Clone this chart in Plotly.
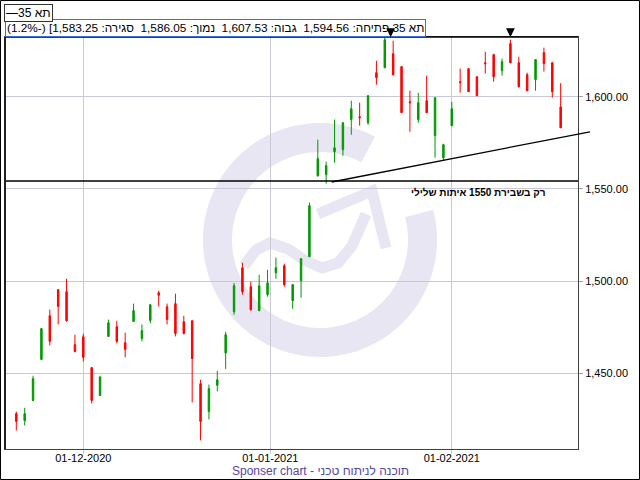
import numpy as np
import pandas as pd
import plotly.graph_objects as go

# TASE trading days (Sunday - Thursday)
dates = pd.bdate_range('2020-11-19', '2021-02-18', freq='C', weekmask='Sun Mon Tue Wed Thu')

opens = [1427.9, 1424.1, 1435.1, 1457.4, 1481.1, 1495.3, 1494.2, 1465.4, 1469.7, 1452.9,
         1437.8, 1469.9, 1475.2, 1466.5, 1478.0, 1468.8, 1478.6, 1493.6, 1486.0, 1487.7,
         1477.9, 1478.4, 1444.2, 1429.1, 1443.3, 1460.9, 1483.3, 1507.2, 1496.9, 1483.9,
         1492.6, 1504.5, 1508.3, 1489.3, 1500.2, 1513.2, 1557.2, 1557.8, 1570.3, 1571.4,
         1587.7, 1589.3, 1586.0, 1613.2, 1615.9, 1623.5, 1616.5, 1597.4, 1587.7, 1598.0,
         1579.0, 1567.0, 1584.4, 1608.3, 1615.4, 1611.0, 1618.6, 1623.0, 1614.3, 1629.0,
         1618.6, 1612.1, 1609.4, 1624.1, 1618.6, 1594.56]
highs = [1429.0, 1431.1, 1448.5, 1474.5, 1484.4, 1495.6, 1501.2, 1470.8, 1471.3, 1453.2,
         1448.5, 1479.0, 1478.4, 1471.9, 1487.7, 1476.4, 1487.4, 1494.7, 1487.7, 1493.1,
         1481.1, 1478.6, 1446.3, 1443.7, 1451.2, 1472.4, 1498.9, 1509.9, 1499.6, 1503.4,
         1506.1, 1512.7, 1509.4, 1498.2, 1512.3, 1542.6, 1576.8, 1564.8, 1587.7, 1586.2,
         1598.0, 1596.9, 1600.9, 1619.7, 1632.2, 1630.6, 1616.7, 1603.4, 1602.3, 1611.6,
         1599.8, 1574.6, 1597.4, 1615.4, 1615.6, 1611.2, 1624.6, 1623.5, 1620.8, 1631.1,
         1621.9, 1613.2, 1620.5, 1626.8, 1618.8, 1607.53]
lows = [1418.8, 1421.5, 1434.6, 1457.0, 1465.0, 1476.4, 1477.9, 1461.2, 1456.3, 1433.5,
        1437.5, 1469.8, 1466.1, 1458.5, 1477.8, 1467.2, 1477.0, 1486.2, 1476.4, 1469.9,
        1471.0, 1434.0, 1413.4, 1424.8, 1440.0, 1452.2, 1481.7, 1492.6, 1483.9, 1483.6,
        1491.5, 1501.2, 1496.9, 1484.9, 1490.9, 1513.0, 1556.7, 1552.9, 1564.3, 1568.1,
        1579.5, 1584.4, 1584.9, 1606.7, 1615.7, 1611.6, 1591.3, 1581.1, 1586.0, 1591.3,
        1567.0, 1565.4, 1584.2, 1602.3, 1602.7, 1600.5, 1612.7, 1608.3, 1611.6, 1618.4,
        1605.1, 1603.2, 1603.4, 1613.8, 1599.6, 1583.25]
closes = [1423.7, 1427.9, 1446.9, 1474.1, 1467.2, 1486.2, 1478.4, 1461.7, 1458.5, 1435.1,
          1447.8, 1477.3, 1467.2, 1462.8, 1483.9, 1473.0, 1487.1, 1492.2, 1479.1, 1471.5,
          1471.5, 1457.9, 1423.7, 1441.5, 1446.3, 1470.8, 1497.4, 1494.2, 1484.4, 1497.4,
          1499.0, 1507.2, 1498.0, 1498.0, 1512.1, 1540.9, 1566.5, 1562.7, 1572.4, 1586.0,
          1593.6, 1588.7, 1600.7, 1610.5, 1631.1, 1612.1, 1591.5, 1596.9, 1596.9, 1591.5,
          1599.6, 1574.1, 1593.6, 1607.8, 1602.9, 1600.7, 1618.1, 1611.0, 1619.2, 1618.6,
          1605.6, 1603.4, 1620.3, 1618.1, 1602.9, 1583.25]

month_ticks = [8, 30.33, 52]
month_labels = ['01-12-2020', '01-01-2021', '01-02-2021']

support_level = 1554.3
trend_x = [37.66, 68.5]
trend_y = [1553.8, 1581.1]
peak_marks = [44.7, 59]

header = '\u202bתא 35 פתיחה: 1,594.56  גבוה: 1,607.53  נמוך: 1,586.05  סגירה: 1,583.25] (-1.2%)\u202c'
legend_txt = '\u202a\u2014\u202bתא 35\u202c\u202c'
note = '\u202bרק בשבירת 1550 איתות שלילי\u202c'
footer = '\u202bתוכנה לניתוח טכני - Sponser chart\u202c'

# layout geometry
W, H = 640, 480
ML, MR, MT, MB = 5, 62, 37, 31
PW, PH = W - ML - MR, H - MT - MB
X_RANGE = [-1.35, 67.07]
Y_RANGE = [1408.7, 1632.6]


def pxx(px):
    return (px - ML) / PW


def pxy(py):
    return (H - MB - py) / PH


def ix(i):
    return (i - X_RANGE[0]) / (X_RANGE[1] - X_RANGE[0])


def iy(v):
    return (v - Y_RANGE[0]) / (Y_RANGE[1] - Y_RANGE[0])


def path_from_px(points, close=False):
    s = 'M ' + ' L '.join('%.5f,%.5f' % (pxx(x), pxy(y)) for x, y in points)
    return s + (' Z' if close else '')


# watermark logo (ring + wavy arrow)
cx, cy, R, r = 320, 240, 117, 88
ang = np.radians(np.linspace(62, 375, 120))
outer = [(cx + R * np.cos(a), cy - R * np.sin(a)) for a in ang]
inner = [(cx + r * np.cos(a), cy - r * np.sin(a)) for a in ang[::-1]]
ring_path = path_from_px(outer + inner, close=True)
wave_path = path_from_px([(244, 266), (256, 250), (270, 243), (288, 249), (306, 261),
                          (322, 268), (338, 263), (352, 246), (366, 214)])
head_path = path_from_px([(318, 214), (372, 191), (386, 248)])

x = np.arange(len(dates))

fig = go.Figure()
fig.add_trace(go.Candlestick(
    x=x, open=opens, high=highs, low=lows, close=closes,
    text=[d.strftime('%d-%m-%Y') for d in dates],
    increasing=dict(line=dict(color='#009900', width=1), fillcolor='#009900'),
    decreasing=dict(line=dict(color='#ff0000', width=1), fillcolor='#ff0000'),
    whiskerwidth=0, showlegend=False))

wm = '#e7e6f2'
shapes = [
    dict(type='path', path=ring_path, xref='paper', yref='paper', fillcolor=wm,
         line=dict(width=0), layer='below'),
    dict(type='path', path=wave_path, xref='paper', yref='paper', line=dict(color=wm, width=11),
         layer='below'),
    dict(type='path', path=head_path, xref='paper', yref='paper', line=dict(color=wm, width=11),
         layer='below'),
    # support line
    dict(type='line', xref='paper', yref='paper', x0=0, x1=1, y0=iy(support_level), y1=iy(support_level),
         line=dict(color='black', width=1.5)),
    # trend line
    dict(type='line', xref='paper', yref='paper', x0=ix(trend_x[0]), x1=ix(trend_x[1]),
         y0=iy(trend_y[0]), y1=iy(trend_y[1]), line=dict(color='black', width=1.3)),
    # heavier left and top borders of the plot
    dict(type='line', xref='paper', yref='paper', x0=0, x1=0, y0=0, y1=1,
         line=dict(color='#202020', width=2)),
    dict(type='line', xref='paper', yref='paper', x0=0, x1=1, y0=1, y1=1,
         line=dict(color='black', width=1.5)),
    # outer frame
    dict(type='rect', xref='paper', yref='paper', x0=pxx(0.5), x1=pxx(639.5), y0=pxy(479.5), y1=pxy(0.5),
         line=dict(color='black', width=1)),
]

annotations = [
    dict(text=header, xref='paper', yref='paper', x=0, y=1, xanchor='left', yanchor='bottom',
         showarrow=False, font=dict(size=11.8, color='black'), bordercolor='#3a6fd8', borderwidth=1,
         borderpad=1, bgcolor='white'),
    dict(text=legend_txt, xref='paper', yref='paper', x=pxx(4), y=pxy(4),
         xanchor='left', yanchor='top', showarrow=False, font=dict(size=12, color='black'),
         bordercolor='#333333', borderwidth=1, borderpad=1, bgcolor='white'),
    dict(text='<b>' + note + '</b>', x=55.2, y=1548, showarrow=False,
         font=dict(size=10, color='black')),
    dict(text=footer, xref='paper', yref='paper', x=pxx(320), y=pxy(471), yanchor='middle',
         showarrow=False, font=dict(size=12, color='#5546a8')),
]
for p in peak_marks:
    annotations.append(dict(text=' ', x=p, y=1, xref='x', yref='paper', showarrow=True,
                            arrowhead=2, arrowsize=0.7, arrowwidth=2.5, arrowcolor='black',
                            ax=0, ay=-12))

fig.update_layout(
    width=W, height=H,
    margin=dict(l=ML, r=MR, t=MT, b=MB),
    paper_bgcolor='white', plot_bgcolor='white',
    font=dict(family='Liberation Sans, Arial, sans-serif', size=11, color='black'),
    boxgap=0.75,
    shapes=shapes, annotations=annotations,
    showlegend=False,
)
fig.update_xaxes(range=X_RANGE, rangeslider_visible=False,
                 tickmode='array', tickvals=month_ticks, ticktext=month_labels,
                 showgrid=True, gridcolor='#c8c8d6', gridwidth=1,
                 ticks='outside', ticklen=4, tickcolor='#c8c8d6', ticklabelstandoff=-5,
                 showline=True, linecolor='#404040', linewidth=1, mirror=True, zeroline=False)
fig.update_yaxes(range=Y_RANGE, side='right', dtick=50, tick0=1400, tickformat=',.2f',
                 showgrid=True, gridcolor='#c8c8d6', gridwidth=1,
                 ticks='outside', ticklen=4, tickcolor='#a0a0a0',
                 showline=True, linecolor='#404040', linewidth=1, mirror=True, zeroline=False)

# the page's default body margin would shift the chart by 8px
fig.write_html("out.html", config={'displayModeBar': False},
               post_script="document.body.style.margin='0';")
